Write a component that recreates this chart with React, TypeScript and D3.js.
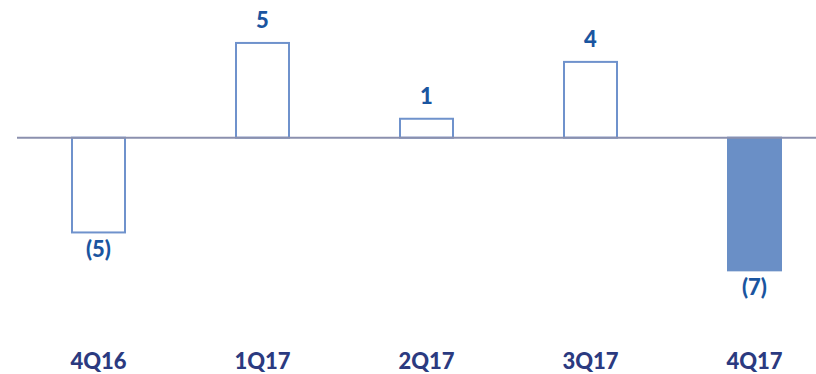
import React from "react";
import * as d3 from "d3";

const categories = ["4Q16", "1Q17", "2Q17", "3Q17", "4Q17"];
const values = [-5, 5, 1, 4, -7];
const valueLabels = ["(5)", "5", "1", "4", "(7)"];
const filled = [false, false, false, false, true];

export default function App() {
  const W = 816, H = 374;
  const pi = 1 - 53 / 164;
  const x = d3.scaleBand<string>().domain(categories).range([16.5, 836.5]).paddingInner(pi).paddingOuter(pi / 2);
  const y = d3.scaleLinear().domain([-7, 5]).range([137.7 + 7 * 18.95, 137.7 - 5 * 18.95]);
  const font = "Lato, 'Open Sans', sans-serif";
  return (
    <svg width={W} height={H} style={{ position: "absolute", left: 0, top: 0 }}>
      {values.map((v, i) => {
        const x0 = x(categories[i])!;
        const bw = x.bandwidth();
        const y0 = y(Math.max(0, v));
        const y1 = y(Math.min(0, v));
        const fillC = filled[i];
        return (
          <g key={i}>
            <rect x={x0} y={y0} width={bw} height={y1 - y0}
              fill={fillC ? "#6a8fc6" : "#ffffff"}
              stroke={fillC ? "#6a8fc6" : "#6f92cc"} strokeWidth={2} />
            <text x={x0 + bw / 2} y={v >= 0 ? y0 - 15 : y1 + 25} textAnchor="middle"
              fontFamily={font} fontWeight="900" fontSize={22} fill="#1a55a0">{valueLabels[i]}</text>
            <text x={x0 + bw / 2} y={369} textAnchor="middle"
              fontFamily={font} fontWeight="900" fontSize={22} fill="#2b3a80">{categories[i]}</text>
          </g>
        );
      })}
      <line x1={17} x2={816} y1={y(0)} y2={y(0)} stroke="#8b90ae" strokeWidth={2} />
    </svg>
  );
}
